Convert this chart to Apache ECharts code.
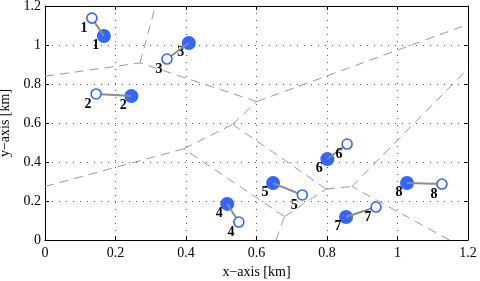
<!DOCTYPE html>
<html><head><meta charset="utf-8">
<script src="https://cdn.jsdelivr.net/npm/echarts@6/dist/echarts.min.js"></script>
<style>html,body{margin:0;padding:0;background:#fff}#c{width:480px;height:281px}</style>
</head><body><div id="c"></div>
<script>
const ids = ['1','2','3','4','5','6','7','8'];
const filledX = [0.167, 0.245, 0.408, 0.517, 0.647, 0.801, 0.854, 1.027];
const filledY = [1.046, 0.738, 1.010, 0.185, 0.292, 0.415, 0.118, 0.292];
const openX = [0.133, 0.145, 0.346, 0.550, 0.730, 0.857, 0.939, 1.126];
const openY = [1.138, 0.749, 0.928, 0.092, 0.231, 0.492, 0.169, 0.287];
const xTicks = ['0','0.2','0.4','0.6','0.8','1','1.2'];
const yTicks = ['0','0.2','0.4','0.6','0.8','1','1.2'];
const XMIN = 0, XMAX = 1.2, YMIN = 0, YMAX = 1.2;

// Voronoi edges of the filled points, clipped to the axes box
function voronoiEdges(xs, ys) {
  const n = xs.length, out = [];
  for (let i = 0; i < n; i++) for (let j = i + 1; j < n; j++) {
    const mx = (xs[i] + xs[j]) / 2, my = (ys[i] + ys[j]) / 2;
    const dx = -(ys[j] - ys[i]), dy = xs[j] - xs[i];
    let lo = -1e9, hi = 1e9;
    const cons = []; // a + b t <= 0
    cons.push([XMIN - mx, -dx]); cons.push([mx - XMAX, dx]);
    cons.push([YMIN - my, -dy]); cons.push([my - YMAX, dy]);
    const pi2 = xs[i]*xs[i] + ys[i]*ys[i];
    for (let k = 0; k < n; k++) {
      if (k === i || k === j) continue;
      const ex = xs[k] - xs[i], ey = ys[k] - ys[i];
      const pk2 = xs[k]*xs[k] + ys[k]*ys[k];
      cons.push([2*(mx*ex + my*ey) + pi2 - pk2, 2*(dx*ex + dy*ey)]);
    }
    let ok = true;
    for (const [a, b] of cons) {
      if (Math.abs(b) < 1e-12) { if (a > 0) { ok = false; break; } }
      else if (b > 0) hi = Math.min(hi, -a / b);
      else lo = Math.max(lo, -a / b);
    }
    if (ok && hi - lo > 1e-9) {
      out.push({coords: [[mx + lo*dx, my + lo*dy], [mx + hi*dx, my + hi*dy]]});
    }
  }
  return out;
}

const serif = "'Liberation Serif', 'DejaVu Serif', serif";
const series = [];
series.push({
  type: 'lines', coordinateSystem: 'cartesian2d', xAxisIndex: 0, yAxisIndex: 0,
  data: voronoiEdges(filledX, filledY), silent: true, z: 1,
  lineStyle: {color: '#9a9a9a', width: 1, type: [9, 6], opacity: 1}
});
series.push({
  type: 'scatter', data: filledX.map((x, i) => [x, filledY[i], ids[i]]),
  symbol: 'circle', symbolSize: 14, z: 2, silent: true,
  itemStyle: {color: '#3366ff', opacity: 1},
  label: {show: true, position: 'inside', offset: [-8, 9], formatter: p => p.data[2],
    fontFamily: serif, fontWeight: 'bold', fontSize: 14, color: '#000'}
});
for (let i = 0; i < ids.length; i++) {
  series.push({
    type: 'line', data: [[filledX[i], filledY[i]], [openX[i], openY[i]]],
    symbol: 'none', z: 3, silent: true,
    lineStyle: {color: '#8c8c8c', width: 2}
  });
}
series.push({
  type: 'scatter', data: openX.map((x, i) => [x, openY[i], ids[i]]),
  symbol: 'circle', symbolSize: 10, z: 4, silent: true,
  itemStyle: {color: '#ffffff', borderColor: '#3366ff', borderWidth: 1.6, opacity: 1},
  label: {show: true, position: 'inside', offset: [-8, 10], formatter: p => p.data[2],
    fontFamily: serif, fontWeight: 'bold', fontSize: 14, color: '#000'}
});

const chart = echarts.init(document.getElementById('c'), null, {renderer: 'canvas'});
const baseAxis = {
  type: 'value', interval: 0.2,
  axisLine: {show: true, onZero: false, lineStyle: {color: '#000', width: 1}},
  axisTick: {show: true, inside: true, length: 4, lineStyle: {color: '#000'}},
};
chart.setOption({
  animation: false,
  backgroundColor: '#fff',
  grid: {left: 45, right: 12, top: 6, bottom: 41, containLabel: false, outerBoundsMode: 'none'},
  xAxis: [
    Object.assign({}, baseAxis, {min: XMIN, max: XMAX, position: 'bottom',
      name: 'x\u2212axis [km]', nameLocation: 'middle', nameGap: 22,
      nameTextStyle: {fontFamily: serif, fontSize: 14, color: '#000'},
      axisLabel: {fontFamily: serif, fontSize: 14, color: '#000', margin: 6,
        formatter: v => xTicks[Math.round(v / 0.2)]},
      splitLine: {show: true, lineStyle: {color: '#555', width: 1, type: [1, 6]}}}),
    Object.assign({}, baseAxis, {min: XMIN, max: XMAX, position: 'top',
      axisLabel: {show: false}, splitLine: {show: false}})
  ],
  yAxis: [
    Object.assign({}, baseAxis, {min: YMIN, max: YMAX, position: 'left',
      name: 'y\u2212axis [km]', nameLocation: 'middle', nameGap: 27,
      nameTextStyle: {fontFamily: serif, fontSize: 14, color: '#000'},
      axisLabel: {fontFamily: serif, fontSize: 14, color: '#000', margin: 4,
        formatter: v => yTicks[Math.round(v / 0.2)]},
      splitLine: {show: true, lineStyle: {color: '#555', width: 1, type: [1, 6]}}}),
    Object.assign({}, baseAxis, {min: YMIN, max: YMAX, position: 'right',
      axisLabel: {show: false}, splitLine: {show: false}})
  ],
  series: series
});
</script></body></html>
